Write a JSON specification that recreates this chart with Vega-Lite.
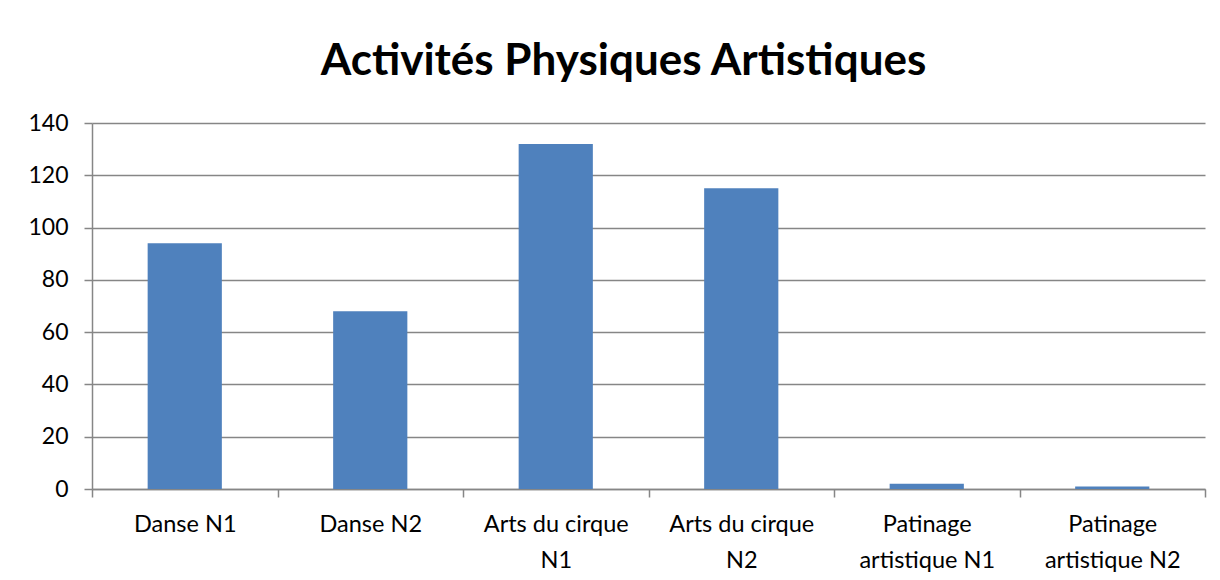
{
  "$schema": "https://vega.github.io/schema/vega-lite/v6.json",
  "width": 1113,
  "height": 366,
  "autosize": {"type": "none"},
  "padding": {"left": 92, "top": 123, "right": 15, "bottom": 91},
  "background": "white",
  "title": {"text": "Activités Physiques Artistiques", "font": "Lato", "fontSize": 44, "fontWeight": "bold", "color": "black", "anchor": "middle", "offset": 28, "dx": -25},
  "data": {"values": [
    {"activite": "Danse N1", "valeur": 94},
    {"activite": "Danse N2", "valeur": 68},
    {"activite": "Arts du cirque N1", "valeur": 132},
    {"activite": "Arts du cirque N2", "valeur": 115},
    {"activite": "Patinage artistique N1", "valeur": 2},
    {"activite": "Patinage artistique N2", "valeur": 1}
  ]},
  "mark": {"type": "bar", "color": "#4F81BD", "width": {"band": 0.4}},
  "encoding": {
    "x": {
      "field": "activite", "type": "nominal", "sort": null,
      "scale": {"paddingInner": 0, "paddingOuter": 0},
      "axis": {
        "title": null, "labelAngle": 0, "tickBand": "extent", "tickSize": 8,
        "domainColor": "#868686", "tickColor": "#868686", "domainWidth": 1.5, "tickWidth": 1.5,
        "labelFont": "Lato", "labelFontSize": 23.5, "labelColor": "black", "labelPadding": 15, "labelLineHeight": 36,
        "labelExpr": "datum.value == 'Arts du cirque N1' ? ['Arts du cirque','N1'] : datum.value == 'Arts du cirque N2' ? ['Arts du cirque','N2'] : datum.value == 'Patinage artistique N1' ? ['Patinage','artistique N1'] : datum.value == 'Patinage artistique N2' ? ['Patinage','artistique N2'] : datum.value",
        "grid": false
      }
    },
    "y": {
      "field": "valeur", "type": "quantitative",
      "scale": {"domain": [0, 140], "nice": false},
      "axis": {
        "title": null, "values": [0, 20, 40, 60, 80, 100, 120, 140], "grid": true,
        "gridColor": "#868686", "gridWidth": 1.5, "domainColor": "#868686", "domainWidth": 1.5,
        "tickColor": "#868686", "tickWidth": 1.5, "tickSize": 8,
        "labelFont": "Lato", "labelFontSize": 23, "labelColor": "black", "labelPadding": 16
      }
    }
  },
  "config": {"view": {"stroke": null}}
}
